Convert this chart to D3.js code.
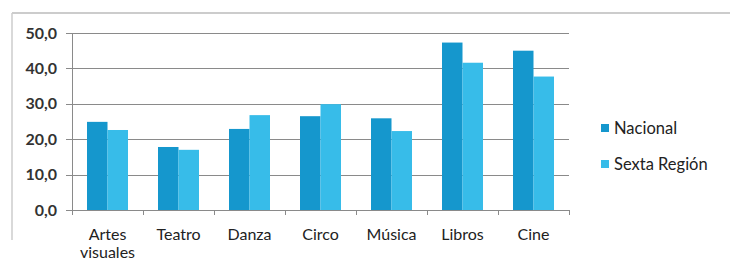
<!DOCTYPE html>
<html>
<head>
<meta charset="utf-8">
<script src="https://cdn.jsdelivr.net/npm/d3@7"></script>
<style>
  body { margin: 0; background: #fff; }
  text { font-family: Lato, "Open Sans", sans-serif; fill: #222; }
</style>
</head>
<body>
<script>
// data ====================================================================
var categories = ["Artes visuales", "Teatro", "Danza", "Circo", "Música", "Libros", "Cine"]
var nacional   = [24.9, 17.8, 22.9, 26.5, 25.9, 47.3, 45.0]
var sexta      = [22.6, 17.0, 26.8, 29.9, 22.3, 41.6, 37.7]
var seriesNames = ["Nacional", "Sexta Región"]
var yTicks     = [0, 10, 20, 30, 40, 50]

var colors = ["#1597cd", "#37bce9"]

var W = 730, H = 272
var margin = { left: 72, right: 161, top: 33, bottom: 62 }
var width  = W - margin.left - margin.right
var height = H - margin.top - margin.bottom

var svg = d3.select("body").append("svg")
    .attr("width", W).attr("height", H)

// outer frame (only top and left edges visible)
svg.append("line").attr("x1", 12).attr("x2", W).attr("y1", 13).attr("y2", 13)
    .attr("stroke", "#bbb").attr("stroke-width", 1.5)
svg.append("line").attr("x1", 12).attr("x2", 12).attr("y1", 13).attr("y2", 240)
    .attr("stroke", "#ccc").attr("stroke-width", 1.5)

var g = svg.append("g").attr("transform", "translate(" + margin.left + "," + margin.top + ")")

var x = d3.scaleBand().domain(categories).range([0, width])
var y = d3.scaleLinear().domain([0, 50]).range([height, 0])

// gridlines
g.append("g").selectAll("line").data(yTicks).enter().append("line")
    .attr("x1", -6).attr("x2", width)
    .attr("y1", function(d) { return Math.round(y(d)) + 0.5 })
    .attr("y2", function(d) { return Math.round(y(d)) + 0.5 })
    .attr("stroke", "#8a8a8a").attr("stroke-width", 1)

// y labels
g.append("g").selectAll("text").data(yTicks).enter().append("text")
    .attr("x", -15).attr("y", function(d) { return y(d) })
    .attr("dy", "0.35em").attr("text-anchor", "end")
    .attr("font-size", "16px").attr("font-weight", "bold")
    .style("fill", "#333")
    .text(function(d) { return d3.format(".1f")(d).replace(".", ",") })

// y axis line
g.append("line").attr("x1", 0.5).attr("x2", 0.5).attr("y1", 0).attr("y2", height)
    .attr("stroke", "#8a8a8a")

// x category ticks
g.append("g").selectAll("line").data(d3.range(categories.length + 1)).enter().append("line")
    .attr("x1", function(i) { return Math.round(i * x.step()) + 0.5 })
    .attr("x2", function(i) { return Math.round(i * x.step()) + 0.5 })
    .attr("y1", height).attr("y2", height + 5)
    .attr("stroke", "#8a8a8a")

// bars
var inner = d3.scaleBand().domain([0, 1]).range([0, 41])
var groups = g.append("g").selectAll("g").data(categories).enter().append("g")
    .attr("transform", function(d) { return "translate(" + (x(d) + (x.step() - 41) / 2) + ",0)" })

groups.selectAll("rect")
    .data(function(d, i) { return [nacional[i], sexta[i]] })
    .enter().append("rect")
    .attr("x", function(d, j) { return inner(j) })
    .attr("width", inner.bandwidth())
    .attr("y", function(d) { return y(d) })
    .attr("height", function(d) { return height - y(d) })
    .attr("fill", function(d, j) { return colors[j] })

// category labels
var labels = g.append("g").selectAll("text").data(categories).enter().append("text")
    .attr("x", function(d) { return x(d) + x.bandwidth() / 2 })
    .attr("y", height + 30)
    .attr("text-anchor", "middle")
    .attr("font-size", "16px")
labels.each(function(d) {
    var words = d.split(" ")
    var t = d3.select(this)
    words.forEach(function(w, k) {
        t.append("tspan").attr("x", t.attr("x")).attr("dy", k ? "1.15em" : 0).text(w)
    })
})

// legend
var legend = svg.append("g").attr("transform", "translate(601,0)")
var lg = legend.selectAll("g").data(seriesNames).enter().append("g")
    .attr("transform", function(d, i) { return "translate(0," + (128 + i * 36) + ")" })
lg.append("rect").attr("x", 0).attr("y", -4).attr("width", 8).attr("height", 8)
    .attr("fill", function(d, i) { return colors[i] })
lg.append("text").attr("x", 13).attr("dy", "0.35em")
    .attr("font-size", "16.5px")
    .text(function(d) { return d })
</script>
</body>
</html>
